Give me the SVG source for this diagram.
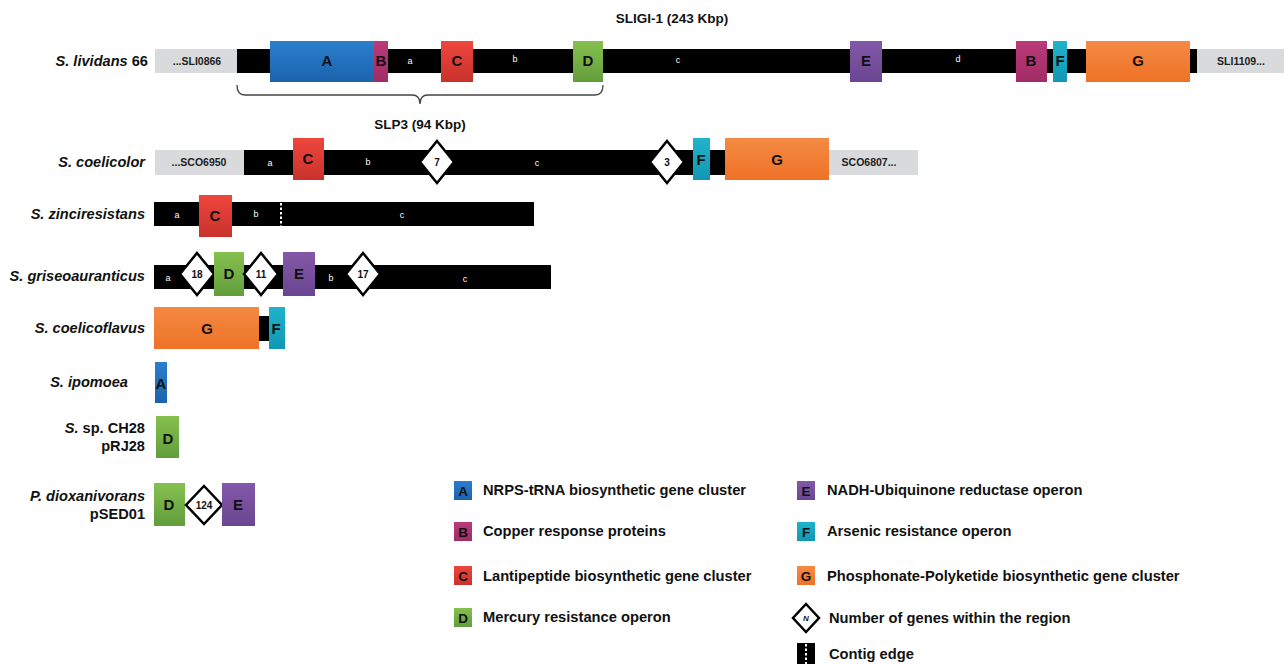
<svg xmlns="http://www.w3.org/2000/svg" width="1284" height="664" viewBox="0 0 1284 664">
<defs>
<linearGradient id="gA" x1="0" y1="0" x2="0" y2="1"><stop offset="0" stop-color="#2a7fcc"/><stop offset="1" stop-color="#1c62ad"/></linearGradient>
<linearGradient id="gB" x1="0" y1="0" x2="0" y2="1"><stop offset="0" stop-color="#bb3a7a"/><stop offset="1" stop-color="#a02c66"/></linearGradient>
<linearGradient id="gC" x1="0" y1="0" x2="0" y2="1"><stop offset="0" stop-color="#ee463d"/><stop offset="1" stop-color="#c8322c"/></linearGradient>
<linearGradient id="gD" x1="0" y1="0" x2="0" y2="1"><stop offset="0" stop-color="#86c050"/><stop offset="1" stop-color="#629d3c"/></linearGradient>
<linearGradient id="gE" x1="0" y1="0" x2="0" y2="1"><stop offset="0" stop-color="#8358a8"/><stop offset="1" stop-color="#6a4692"/></linearGradient>
<linearGradient id="gF" x1="0" y1="0" x2="0" y2="1"><stop offset="0" stop-color="#20b3cc"/><stop offset="1" stop-color="#1297b2"/></linearGradient>
<linearGradient id="gG" x1="0" y1="0" x2="0" y2="1"><stop offset="0" stop-color="#f48a44"/><stop offset="1" stop-color="#ee7226"/></linearGradient>
</defs>
<style>
text{font-family:"Liberation Sans",Arial,sans-serif;font-weight:bold}
.sp{font-size:14.6px;fill:#111;text-anchor:end}
.bx{font-size:15px;fill:#111;text-anchor:middle}
.sm{font-size:9px;fill:#fff;text-anchor:middle;font-weight:normal}
.gt{font-size:10.5px;fill:#222;text-anchor:middle}
.gray{fill:#d9dadc}
.bar{fill:#000}
.A{fill:url(#gA)}.B{fill:url(#gB)}.C{fill:url(#gC)}.D{fill:url(#gD)}.E{fill:url(#gE)}.F{fill:url(#gF)}.G{fill:url(#gG)}
.dm{fill:#fff;stroke:#000;stroke-width:2.5}
.dt{font-size:10px;fill:#111;text-anchor:middle}
.lg{font-size:14.7px;fill:#111}
.lb{font-size:13.5px;fill:#111;text-anchor:middle}
.hd{font-size:13.5px;fill:#111;text-anchor:middle}
</style>

<text class="hd" x="672" y="23">SLIGI-1 (243 Kbp)</text>

<g id="row-lividans">
<text class="sp" x="148" y="66"><tspan font-style="italic">S. lividans</tspan> 66</text>
<rect class="gray" x="155" y="49" width="82" height="24"/>
<text class="gt" x="197" y="65">...SLI0866</text>
<rect class="bar" x="237" y="49" width="960" height="24"/>
<rect class="gray" x="1197" y="49" width="87" height="24"/>
<text class="gt" x="1241" y="65">SLI1109...</text>
<rect class="A" x="270" y="41" width="104" height="41"/><text class="bx" x="327" y="66">A</text>
<rect class="B" x="374" y="41" width="14" height="41"/><text class="bx" x="381" y="66">B</text>
<text class="sm" x="410" y="64">a</text>
<rect class="C" x="441" y="41" width="32" height="41"/><text class="bx" x="457" y="66">C</text>
<text class="sm" x="515" y="62">b</text>
<rect class="D" x="573" y="41" width="30" height="41"/><text class="bx" x="588" y="66">D</text>
<text class="sm" x="678" y="63">c</text>
<rect class="E" x="850" y="41" width="32" height="41"/><text class="bx" x="866" y="66">E</text>
<text class="sm" x="958" y="62">d</text>
<rect class="B" x="1016" y="41" width="31" height="41"/><text class="bx" x="1031" y="66">B</text>
<rect class="F" x="1053" y="41" width="14" height="41"/><text class="bx" x="1060" y="66">F</text>
<rect class="G" x="1086" y="41" width="104" height="41"/><text class="bx" x="1138" y="66">G</text>
</g>

<g id="brace-slp3">
<path d="M237,85 Q237,95 245,95 L412,95 Q420,95 420,104 Q420,95 428,95 L595,95 Q603,95 603,85" fill="none" stroke="#444" stroke-width="1.3"/>
<text class="hd" x="420" y="129">SLP3 (94 Kbp)</text>
</g>

<g id="row-coelicolor">
<text class="sp" x="145" y="167"><tspan font-style="italic">S. coelicolor</tspan></text>
<rect class="gray" x="155" y="150" width="89" height="25"/>
<text class="gt" x="199" y="166">...SCO6950</text>
<rect class="bar" x="244" y="150" width="481" height="25"/>
<rect class="gray" x="829" y="150" width="89" height="25"/>
<text class="gt" x="869" y="166">SCO6807...</text>
<text class="sm" x="270" y="166">a</text>
<rect class="C" x="293" y="138" width="31" height="42"/><text class="bx" x="308" y="164">C</text>
<text class="sm" x="368" y="165">b</text>
<polygon class="dm" points="437,141 454,162 437,183 420,162"/><text class="dt" x="437" y="166">7</text>
<text class="sm" x="537" y="166">c</text>
<polygon class="dm" points="667,141 684,162 667,183 650,162"/><text class="dt" x="667" y="166">3</text>
<rect class="F" x="693" y="138" width="17" height="42"/><text class="bx" x="701" y="165">F</text>
<rect class="G" x="725" y="138" width="104" height="42"/><text class="bx" x="777" y="165">G</text>
</g>

<g id="row-zinciresistans">
<text class="sp" x="145" y="219"><tspan font-style="italic">S. zinciresistans</tspan></text>
<rect class="bar" x="154" y="202" width="380" height="24"/>
<text class="sm" x="177" y="218">a</text>
<rect class="C" x="199" y="195" width="33" height="42"/><text class="bx" x="215" y="221">C</text>
<text class="sm" x="256" y="217">b</text>
<line x1="281" y1="203" x2="281" y2="226" stroke="#fff" stroke-width="2" stroke-dasharray="2.5,2"/>
<text class="sm" x="402" y="218">c</text>
</g>

<g id="row-griseoauranticus">
<text class="sp" x="145" y="281"><tspan font-style="italic">S. griseoauranticus</tspan></text>
<rect class="bar" x="154" y="265" width="397" height="24"/>
<text class="sm" x="168" y="281">a</text>
<polygon class="dm" points="197,253 214,274 197,295 180,274"/><text class="dt" x="197" y="278">18</text>
<rect class="D" x="214" y="252" width="30" height="44"/><text class="bx" x="229" y="279">D</text>
<polygon class="dm" points="261,253 278,274 261,295 244,274"/><text class="dt" x="261" y="278">11</text>
<rect class="E" x="283" y="252" width="32" height="44"/><text class="bx" x="299" y="279">E</text>
<text class="sm" x="331" y="281">b</text>
<polygon class="dm" points="363,253 380,274 363,295 346,274"/><text class="dt" x="363" y="278">17</text>
<text class="sm" x="465" y="282">c</text>
</g>

<g id="row-coelicoflavus">
<text class="sp" x="145" y="333"><tspan font-style="italic">S. coelicoflavus</tspan></text>
<rect class="G" x="154" y="307" width="105" height="42"/><text class="bx" x="207" y="334">G</text>
<rect class="bar" x="259" y="316" width="10" height="25"/>
<rect class="F" x="269" y="307" width="16" height="42"/><text class="bx" x="276" y="334">F</text>
</g>

<g id="row-ipomoea">
<text class="sp" x="128" y="387"><tspan font-style="italic">S. ipomoea</tspan></text>
<rect class="A" x="155" y="362" width="12" height="41"/><text class="bx" x="161" y="389">A</text>
</g>

<g id="row-ch28">
<text class="sp" x="145" y="433"><tspan font-style="italic">S.</tspan> sp. CH28</text>
<text class="sp" x="145" y="451">pRJ28</text>
<rect class="D" x="156" y="416" width="23" height="42"/><text class="bx" x="168" y="444">D</text>
</g>

<g id="row-dioxanivorans">
<text class="sp" x="145" y="501"><tspan font-style="italic">P. dioxanivorans</tspan></text>
<text class="sp" x="145" y="519">pSED01</text>
<rect class="D" x="154" y="483" width="31" height="43"/><text class="bx" x="169" y="510">D</text>
<polygon class="dm" points="204,486 222,505 204,524 186,505"/><text class="dt" x="204" y="509">124</text>
<rect class="E" x="222" y="483" width="33" height="43"/><text class="bx" x="238" y="510">E</text>
</g>

<g id="legend">
<rect class="A" x="454" y="481" width="18" height="19"/><text class="lb" x="463" y="496">A</text>
<text class="lg" x="483" y="495">NRPS-tRNA biosynthetic gene cluster</text>
<rect class="B" x="454" y="522" width="18" height="19"/><text class="lb" x="463" y="537">B</text>
<text class="lg" x="483" y="536">Copper response proteins</text>
<rect class="C" x="454" y="566" width="18" height="19"/><text class="lb" x="463" y="581">C</text>
<text class="lg" x="483" y="581">Lantipeptide biosynthetic gene cluster</text>
<rect class="D" x="454" y="608" width="18" height="19"/><text class="lb" x="463" y="623">D</text>
<text class="lg" x="483" y="622">Mercury resistance operon</text>

<rect class="E" x="797" y="481" width="18" height="19"/><text class="lb" x="806" y="496">E</text>
<text class="lg" x="827" y="495">NADH-Ubiquinone reductase operon</text>
<rect class="F" x="797" y="522" width="18" height="19"/><text class="lb" x="806" y="537">F</text>
<text class="lg" x="827" y="536">Arsenic resistance operon</text>
<rect class="G" x="797" y="566" width="18" height="19"/><text class="lb" x="806" y="581">G</text>
<text class="lg" x="827" y="581">Phosphonate-Polyketide biosynthetic gene cluster</text>
<polygon class="dm" points="806,604 819,618 806,632 793,618" stroke-width="2"/><text x="806" y="621" style="font-size:8px;font-style:italic;text-anchor:middle;fill:#111">N</text>
<text class="lg" x="829" y="623">Number of genes within the region</text>
<rect class="bar" x="797" y="643" width="18" height="21"/>
<line x1="806" y1="644" x2="806" y2="664" stroke="#fff" stroke-width="2" stroke-dasharray="2.5,2"/>
<text class="lg" x="829" y="659">Contig edge</text>
</g>
</svg>
